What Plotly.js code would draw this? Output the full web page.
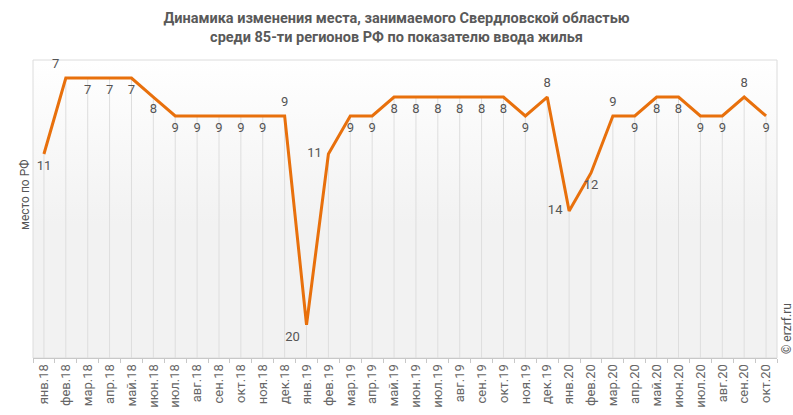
<!DOCTYPE html>
<html>
<head>
<meta charset="utf-8">
<script src="https://cdn.plot.ly/plotly-3.0.1.min.js"></script>
<style>
body { margin: 0; background: #fff; }
#wrap { position: relative; width: 793px; height: 415px; }
#bg { position: absolute; left: 33px; top: 60px; width: 744px; height: 298px;
      background: linear-gradient(#ffffff, #f2f2f2 55%, #f2f2f2); }
#graph { position: absolute; left: 0; top: 0; width: 793px; height: 415px; }
</style>
</head>
<body>
<div id="wrap">
<div id="bg"></div>
<div id="graph"></div>
</div>
<script>
// месяцы
var months = ['янв.18','фев.18','мар.18','апр.18','май.18','июн.18','июл.18','авг.18','сен.18','окт.18','ноя.18','дек.18',
              'янв.19','фев.19','мар.19','апр.19','май.19','июн.19','июл.19','авг.19','сен.19','окт.19','ноя.19','дек.19',
              'янв.20','фев.20','мар.20','апр.20','май.20','июн.20','июл.20','авг.20','сен.20','окт.20'];
// место по РФ
var places = [11,7,7,7,7,8,9,9,9,9,9,9,
              20,11,9,9,8,8,8,8,8,8,9,8,
              14,12,9,9,8,8,9,9,8,9];
// где подпись
var labelPos = ['bottom center','top left','bottom center','bottom center','bottom center','bottom center','bottom center','bottom center','bottom center','bottom center','bottom center','top center',
                'bottom left','middle left','bottom center','bottom center','bottom center','bottom center','bottom center','bottom center','bottom center','bottom center','bottom center','top center',
                'middle left','bottom center','top center','bottom center','bottom center','bottom center','bottom center','bottom center','top center','bottom center'];

var yBottom = 21.75, yTop = 6.05;
var idx = months.map(function (m, i) { return i; });
var drop = places.map(function (v) { return yBottom - v; });

var trace = {
    x: idx,
    y: places,
    type: 'scatter',
    mode: 'lines+markers+text',
    text: places.map(String),
    textposition: labelPos,
    textfont: { family: 'Roboto, sans-serif', size: 13, color: '#555' },
    line: { color: '#e8700c', width: 3 },
    marker: { size: 9, opacity: 0, color: '#e8700c' },
    error_y: { type: 'data', symmetric: false, array: drop, arrayminus: places.map(function () { return 0; }),
               color: '#dedede', thickness: 1, width: 0 },
    cliponaxis: false,
    hoverinfo: 'skip'
};

var layout = {
    width: 793,
    height: 415,
    margin: { l: 33, r: 16, t: 60, b: 57 },
    paper_bgcolor: 'rgba(0,0,0,0)',
    plot_bgcolor: 'rgba(0,0,0,0)',
    showlegend: false,
    font: { family: 'Roboto, sans-serif', color: '#555' },
    title: {
        text: '<b>Динамика изменения места, занимаемого Свердловской областью<br>среди 85-ти регионов РФ по показателю ввода жилья</b>',
        font: { family: 'Roboto, sans-serif', size: 14.5, color: '#595959' },
        x: 0.5, xanchor: 'center', y: 0.945, yanchor: 'top'
    },
    xaxis: {
        range: [-0.5, 33.5],
        tickmode: 'array',
        tickvals: idx,
        ticktext: months,
        tickangle: -90,
        ticks: '',
        tickfont: { family: 'Roboto, sans-serif', size: 13, color: '#666' },
        showgrid: false,
        zeroline: false,
        showline: true,
        linecolor: '#c8c8c8',
        linewidth: 1,
        minor: { tickmode: 'linear', tick0: -0.5, dtick: 1, ticks: 'outside', ticklen: 4, tickcolor: '#c8c8c8', showgrid: false },
        fixedrange: true
    },
    yaxis: {
        range: [yBottom, yTop],
        showticklabels: false,
        ticks: '',
        showgrid: false,
        zeroline: false,
        showline: false,
        fixedrange: true
    },
    shapes: [
        { type: 'rect', xref: 'paper', yref: 'paper', x0: 0, x1: 1, y0: 0, y1: 1,
          line: { color: '#dcdcdc', width: 1 }, fillcolor: 'rgba(0,0,0,0)', layer: 'below' }
    ],
    annotations: [
        { text: 'место по РФ', xref: 'paper', yref: 'paper', x: 0, y: 0.547, xshift: -8,
          xanchor: 'center', yanchor: 'middle', textangle: -90, showarrow: false,
          font: { family: 'Roboto, sans-serif', size: 12, color: '#555' } },
        { text: '© erzrf.ru', xref: 'paper', yref: 'paper', x: 1, y: 0.097, xshift: 10,
          xanchor: 'center', yanchor: 'middle', textangle: -90, showarrow: false,
          font: { family: 'Roboto, sans-serif', size: 12, color: '#555' } }
    ]
};

Plotly.newPlot('graph', [trace], layout, { staticPlot: true });
</script>
</body>
</html>
